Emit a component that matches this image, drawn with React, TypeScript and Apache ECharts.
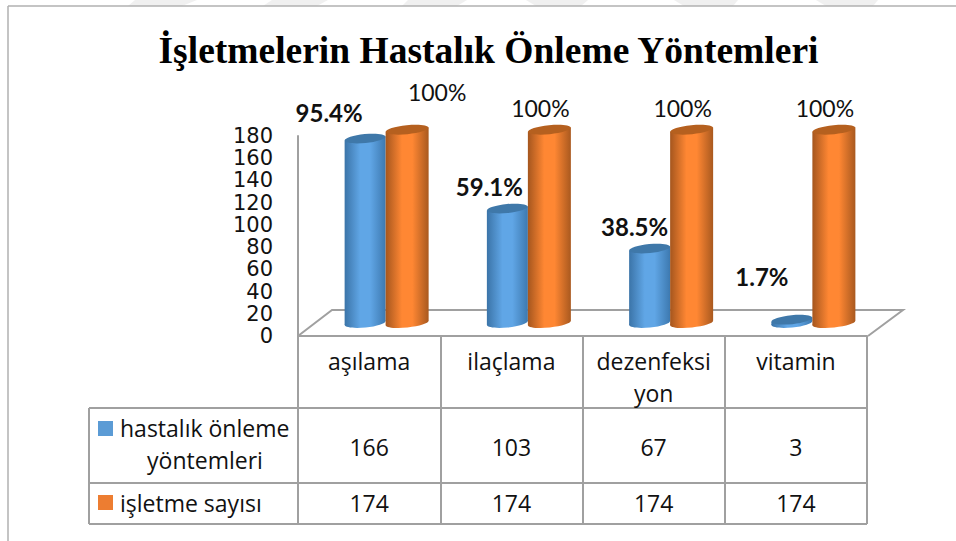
import React, { useEffect, useRef } from "react";
import * as echarts from "echarts";

const titleText = "İşletmelerin Hastalık Önleme Yöntemleri";
const categories = ["aşılama", "ilaçlama", "dezenfeksi\nyon", "vitamin"];
const methodName = "hastalık önleme";
const methodNameLine2 = "yöntemleri";
const firmName = "işletme sayısı";
const methodValues = [166, 103, 67, 3];
const firmValues = [174, 174, 174, 174];
const methodPercents = ["95.4%", "59.1%", "38.5%", "1.7%"];
const firmPercents = ["100%", "100%", "100%", "100%"];

const SANS = "Open Sans";
const LATO = "Lato";
const LINE = "#a0a0a0";
const GRID = { left: 298, top: 136, width: 569, height: 200 };
const DEPTH_X = 16.5;
const DEPTH_Y = -13;
const TILT = 0.1;

const methodLabelShift = [[-36, -26], [-18, -22], [-15, -22], [-30, -43]];
const firmLabelShift = [[30, -38], [-9, -22], [-9, -22], [-9, -22]];

const grad = (edgeL: string, mid: string, edgeR: string) =>
  new echarts.graphic.LinearGradient(0, 0, 1, 0, [
    { offset: 0, color: edgeL },
    { offset: 0.38, color: mid },
    { offset: 0.62, color: mid },
    { offset: 1, color: edgeR },
  ]);

function cylinderSeries(
  name: string,
  values: number[],
  percents: string[],
  shifts: number[][],
  dx: number,
  r: number,
  colors: { l: string; m: string; e: string; top: string },
  bold: boolean
) {
  return {
    type: "custom",
    name,
    encode: { x: 0, y: 1 },
    data: values.map((v, i) => [i, v]),
    renderItem: (params: any, api: any) => {
      const i = api.value(0);
      const top = api.coord([i, api.value(1)]);
      const base = api.coord([i, 0]);
      const cx = top[0] + DEPTH_X + dx;
      const ty = top[1] + DEPTH_Y;
      const by = base[1] + DEPTH_Y;
      const fill = grad(colors.l, colors.m, colors.e);
      const t = r * TILT;
      const shift = shifts[params.dataIndex];
      return {
        type: "group",
        children: [
          {
            type: "ellipse",
            x: cx,
            y: by,
            rotation: TILT,
            shape: { cx: 0, cy: 0, rx: r, ry: 4.5 },
            style: { fill },
          },
          {
            type: "polygon",
            shape: {
              points: [
                [cx - r, ty + t],
                [cx + r, ty - t],
                [cx + r, by - t],
                [cx - r, by + t],
              ],
            },
            style: { fill },
          },
          {
            type: "ellipse",
            x: cx,
            y: ty,
            rotation: TILT,
            shape: { cx: 0, cy: 0, rx: r, ry: 4.5 },
            style: { fill: colors.top },
          },
          {
            type: "text",
            x: cx + shift[0],
            y: ty + shift[1],
            style: {
              text: percents[params.dataIndex],
              align: "center",
              verticalAlign: "middle",
              fill: "#111",
              font: `${bold ? "bold 24px" : "23px"} ${LATO}`,
            },
          },
        ],
      };
    },
  };
}

const hline = (x1: number, x2: number, y: number) => ({
  type: "line",
  shape: { x1, y1: y, x2, y2: y },
  style: { stroke: LINE, lineWidth: 2 },
});

const label = (text: string, x: number, y: number, align = "center") => ({
  type: "text",
  x,
  y,
  style: { text, x: 0, y: 0, align, verticalAlign: "middle", fill: "#111", font: `23px ${SANS}` },
});

const stripes = [
  [135, 197, 182, 128],
  [272, 328, 317, 263],
  [408, 467, 457, 402],
  [526, 588, 581, 536],
  [674, 738, 733, 684],
  [816, 878, 873, 826],
];

export default function App() {
  const ref = useRef<HTMLDivElement>(null);
  useEffect(() => {
    const chart = echarts.init(ref.current!, null, { renderer: "svg" });
    const colW = GRID.width / categories.length;
    const colX = (i: number) => GRID.left + colW * (i + 0.5);
    chart.setOption({
      animation: false,
      backgroundColor: "#fff",
      title: {
        text: titleText,
        left: 483.5,
        top: 26,
        textAlign: "center",
        textStyle: { fontFamily: "Liberation Serif", fontWeight: "bold", fontSize: 37.5, color: "#000" },
      },
      grid: GRID,
      xAxis: {
        type: "category",
        data: categories,
        axisLine: { lineStyle: { color: LINE, width: 2 } },
        axisTick: { show: true, length: 188, lineStyle: { color: LINE, width: 2 } },
        axisLabel: { color: "#111", fontFamily: SANS, fontSize: 23, lineHeight: 32, margin: 9, interval: 0, verticalAlign: "top" },
      },
      yAxis: {
        type: "value",
        min: 0,
        max: 180,
        interval: 20,
        splitLine: { show: false },
        axisTick: { show: false },
        axisLine: { show: true, lineStyle: { color: LINE, width: 2 } },
        axisLabel: { color: "#111", fontFamily: "DejaVu Sans", fontSize: 21, lineHeight: 20, margin: 25, showMinLabel: true, showMaxLabel: true, hideOverlap: false },
      },
      graphic: [
        ...stripes.map((s) => ({
          type: "polygon",
          shape: { points: [[s[0], 0], [s[1], 0], [s[2], 6], [s[3], 6]] },
          style: { fill: "#f0f0f0" },
        })),
        { type: "line", shape: { x1: 8, y1: 6, x2: 956, y2: 6 }, style: { stroke: "#b0b0b0", lineWidth: 1.5 } },
        { type: "line", shape: { x1: 8, y1: 6, x2: 8, y2: 541 }, style: { stroke: "#b0b0b0", lineWidth: 1.5 } },
        {
          type: "polyline",
          shape: { points: [[298, 336], [332, 310], [903, 310], [868, 336]] },
          style: { stroke: LINE, lineWidth: 2, fill: "none" },
        },
        hline(89, 867, 408),
        hline(89, 867, 483),
        hline(89, 867, 524),
        { type: "line", shape: { x1: 89, y1: 408, x2: 89, y2: 524 }, style: { stroke: LINE, lineWidth: 2 } },
        { type: "rect", shape: { x: 98, y: 421, width: 15, height: 15 }, style: { fill: "#5b9bd5" } },
        { type: "rect", shape: { x: 98, y: 495, width: 15, height: 15 }, style: { fill: "#ed7d31" } },
        label(methodName, 120, 428, "left"),
        label(methodNameLine2, 205, 460),
        label(firmName, 120, 503, "left"),
        ...methodValues.map((v, i) => label(String(v), colX(i), 447)),
        ...firmValues.map((v, i) => label(String(v), colX(i), 503)),
      ],
      series: [
        cylinderSeries(methodName, methodValues, methodPercents, methodLabelShift, -20.5, 20.5,
          { l: "#3b74a8", m: "#60a6e6", e: "#3d79b0", top: "#3f78a9" }, true),
        cylinderSeries(firmName, firmValues, firmPercents, firmLabelShift, 21.5, 21.5,
          { l: "#a5561e", m: "#ff8733", e: "#a9591f", top: "#b5601f" }, false),
      ],
    });
    return () => chart.dispose();
  }, []);
  return <div ref={ref} style={{ position: "fixed", left: 0, top: 0, width: 956, height: 541 }} />;
}
